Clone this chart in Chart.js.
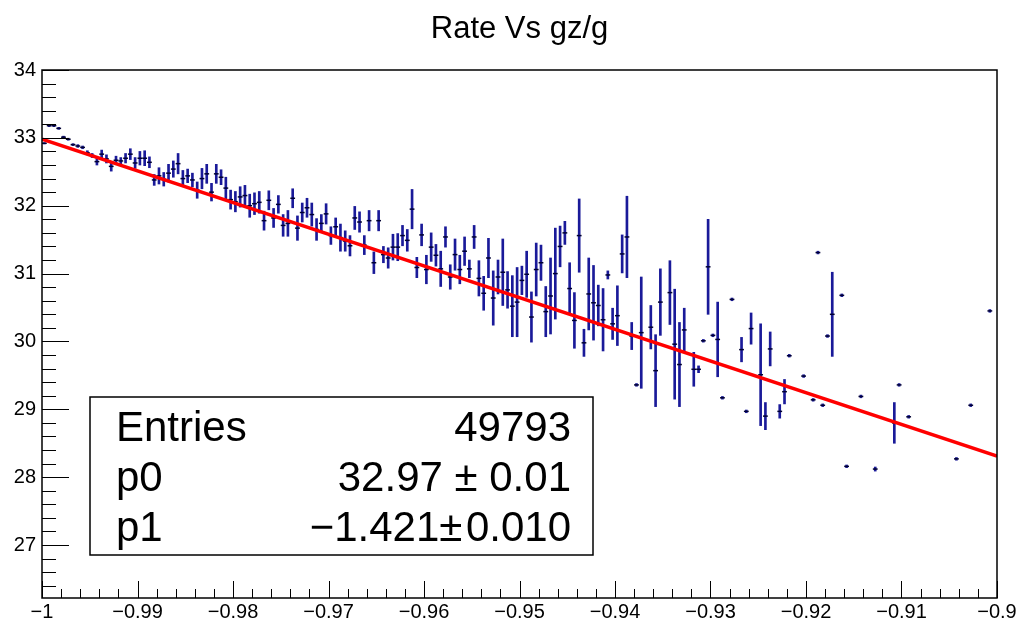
<!DOCTYPE html>
<html>
<head>
<meta charset="utf-8">
<title>Rate Vs gz/g</title>
<script src="https://cdn.jsdelivr.net/npm/chart.js@4"></script>
<style>
  body { margin: 0; background: #fff; }
  canvas { display: block; }
</style>
</head>
<body>
<canvas id="rateChart" width="1024" height="621"></canvas>
<script>
// Bin centres (gz/g) of the filled bins
const binX = [
  -0.99975, -0.99925, -0.99875, -0.99825, -0.99775, -0.99725, -0.99675, -0.99625, -0.99575, -0.99525,
  -0.99475, -0.99425, -0.99375, -0.99325, -0.99275, -0.99225, -0.99175, -0.99125, -0.99075, -0.99025,
  -0.98975, -0.98925, -0.98875, -0.98825, -0.98775, -0.98725, -0.98675, -0.98625, -0.98575, -0.98525,
  -0.98475, -0.98425, -0.98375, -0.98325, -0.98275, -0.98225, -0.98175, -0.98125, -0.98075, -0.98025,
  -0.97975, -0.97925, -0.97875, -0.97825, -0.97775, -0.97725, -0.97675, -0.97625, -0.97575, -0.97525,
  -0.97475, -0.97425, -0.97375, -0.97325, -0.97275, -0.97225, -0.97175, -0.97125, -0.97075, -0.97025,
  -0.96975, -0.96925, -0.96875, -0.96825, -0.96775, -0.96725, -0.96675, -0.96625, -0.96575, -0.96525,
  -0.96475, -0.96425, -0.96375, -0.96325, -0.96275, -0.96225, -0.96175, -0.96125, -0.96075, -0.96025,
  -0.95975, -0.95925, -0.95875, -0.95825, -0.95775, -0.95725, -0.95675, -0.95625, -0.95575, -0.95525,
  -0.95475, -0.95425, -0.95375, -0.95325, -0.95275, -0.95225, -0.95175, -0.95125, -0.95075, -0.95025,
  -0.94975, -0.94925, -0.94875, -0.94825, -0.94775, -0.94725, -0.94675, -0.94625, -0.94575, -0.94525,
  -0.94475, -0.94425, -0.94375, -0.94325, -0.94275, -0.94225, -0.94175, -0.94125, -0.94075, -0.94025,
  -0.93975, -0.93925, -0.93875, -0.93825, -0.93775, -0.93725,
  -0.93625, -0.93575, -0.93525,
  -0.93425, -0.93375, -0.93325, -0.93275,
  -0.93175, -0.93125, -0.93075, -0.93025, -0.92975, -0.92925, -0.92875,
  -0.92775,
  -0.92675, -0.92625, -0.92575,
  -0.92475, -0.92425, -0.92375,
  -0.92275, -0.92225, -0.92175,
  -0.92025,
  -0.91925, -0.91875, -0.91825, -0.91775, -0.91725,
  -0.91625, -0.91575,
  -0.91425,
  -0.91275,
  -0.91075, -0.91025,
  -0.90925,
  -0.90425,
  -0.90275,
  -0.90075
];

// Rate in each bin
const rate = [
  32.92, 33.18, 33.18, 33.14, 33.01, 32.98, 32.90, 32.88, 32.86, 32.78,
  32.74, 32.65, 32.76, 32.69, 32.58, 32.67, 32.66, 32.70, 32.76, 32.63,
  32.70, 32.70, 32.64, 32.38, 32.44, 32.39, 32.48, 32.54, 32.62, 32.40,
  32.44, 32.38, 32.23, 32.40, 32.47, 32.20, 32.47, 32.42, 32.26, 32.09,
  32.06, 32.13, 32.15, 32.00, 32.03, 32.05, 31.78, 32.08, 31.82, 32.02,
  31.71, 31.74, 32.11, 31.67, 31.90, 31.97, 31.87, 31.65, 31.74, 31.88,
  31.56, 31.69, 31.53, 31.48, 31.41, 31.82, 31.76, 31.42, 31.78, 31.16,
  31.78, 31.28, 31.23, 31.39, 31.39, 31.56, 31.49, 31.95, 31.09, 31.57,
  31.06, 31.39, 31.27, 31.07, 31.54, 30.95, 31.28, 31.06, 31.33, 31.07,
  31.54, 30.93, 30.71, 31.23, 30.64, 30.95, 31.02, 30.76, 30.52, 30.58,
  30.90, 30.99, 30.36, 31.06, 31.16, 30.44, 30.67, 31.00, 31.40, 31.60,
  30.78, 30.31, 31.56, 29.98, 30.70, 30.57, 30.53, 30.32, 30.98, 30.26,
  30.38, 31.29, 31.54, 30.08, 29.36, 30.13,
  30.21, 29.57, 30.58,
  30.72, 29.96, 29.66, 30.17,
  29.59, 29.59, 30.01, 31.10, 30.09, 30.03, 29.17,
  30.62,
  29.88, 28.97, 30.19,
  29.51, 28.90, 29.89,
  28.97, 29.26, 29.79,
  29.49,
  29.14, 31.31, 29.06, 30.08, 30.40,
  30.68, 28.16,
  29.19,
  28.12,
  28.80, 29.36,
  28.89,
  28.27,
  29.06,
  30.45
];

// Error on the rate in each bin
const rateErr = [
  0.01, 0.015, 0.015, 0.015, 0.015, 0.015, 0.015, 0.02, 0.02, 0.03,
  0.03, 0.05, 0.06, 0.06, 0.07, 0.06, 0.05, 0.07, 0.08, 0.08,
  0.10, 0.11, 0.08, 0.08, 0.12, 0.10, 0.13, 0.12, 0.15, 0.12,
  0.10, 0.10, 0.12, 0.15, 0.14, 0.13, 0.14, 0.11, 0.16, 0.14,
  0.15, 0.15, 0.15, 0.17, 0.16, 0.16, 0.14, 0.14, 0.14, 0.13,
  0.16, 0.19, 0.14, 0.18, 0.14, 0.14, 0.17, 0.16, 0.13, 0.15,
  0.13, 0.13, 0.20, 0.15, 0.15, 0.17, 0.15, 0.14, 0.15, 0.16,
  0.15, 0.12, 0.15, 0.19, 0.20, 0.15, 0.16, 0.29, 0.15, 0.16,
  0.21, 0.21, 0.16, 0.26, 0.15, 0.18, 0.23, 0.21, 0.21, 0.13,
  0.17, 0.26, 0.25, 0.29, 0.40, 0.25, 0.49, 0.27, 0.45, 0.51,
  0.21, 0.34, 0.37, 0.39, 0.26, 0.37, 0.56, 0.67, 0.30, 0.17,
  0.38, 0.41, 0.54, 0.20, 0.53, 0.55, 0.30, 0.46, 0.06, 0.23,
  0.44, 0.28, 0.60, 0.20, 0.02, 0.82,
  0.32, 0.53, 0.49,
  0.47, 0.81, 0.62, 0.32,
  0.25, 0.05, 0.02, 0.70, 0.02, 0.55, 0.02,
  0.02,
  0.18, 0.02, 0.23,
  0.75, 0.20, 0.25,
  0.10, 0.18, 0.02,
  0.02,
  0.02, 0.02, 0.02, 0.02, 0.62,
  0.02, 0.02,
  0.02,
  0.03,
  0.30, 0.02,
  0.02,
  0.02,
  0.02,
  0.02
];

// Straight-line fit as drawn over the range
const fitX = [-1, -0.9];
const fitY = [32.98, 28.31];

// Axis ticks
const xMajorTicks = [-1, -0.99, -0.98, -0.97, -0.96, -0.95, -0.94, -0.93, -0.92, -0.91, -0.9];
const xTickLabels = ['\u22121', '\u22120.99', '\u22120.98', '\u22120.97', '\u22120.96', '\u22120.95',
                     '\u22120.94', '\u22120.93', '\u22120.92', '\u22120.91', '\u22120.9'];
const yMajorTicks = [27, 28, 29, 30, 31, 32, 33, 34];
const yTickLabels = ['27', '28', '29', '30', '31', '32', '33', '34'];

// Stats box
const statNames = ['Entries', 'p0', 'p1'];
const statValues = ['49793', '32.97 \u00b1 0.01', '\u22121.421\u00b1\u200a0.010'];

const X_MIN = -1, X_MAX = -0.9, Y_MIN = 26.22, Y_MAX = 34;
const FONT = "'Liberation Sans', Arial, Helvetica, sans-serif";

// majors carry a label, minors are the subdivisions in between
function buildTicks(majors, labels, nSub, lo, hi) {
  const step = (majors[1] - majors[0]) / nSub;
  const out = [];
  majors.forEach((m, i) => {
    out.push({ value: m, lbl: labels[i] });
    for (let j = 1; j < nSub; j++) {
      const v = m + j * step;
      if (v < hi - 1e-9) out.push({ value: v, lbl: '' });
      if (i === 0 && m - j * step > lo) out.push({ value: m - j * step, lbl: '' });
    }
  });
  return out.filter(t => t.value >= lo - 1e-9 && t.value <= hi + 1e-9).sort((a, b) => a.value - b.value);
}

const xTicks = buildTicks(xMajorTicks, xTickLabels, 5, X_MIN, X_MAX);
const yTicks = buildTicks(yMajorTicks, yTickLabels, 5, Y_MIN, Y_MAX);

const errData = binX.map((x, i) => ({ x: x, y: [rate[i] - rateErr[i], rate[i] + rateErr[i]] }));
const pointData = binX.map((x, i) => ({ x: x, y: rate[i] }));
const fitData = fitX.map((x, i) => ({ x: x, y: fitY[i] }));

// Frame, inward ticks, title and stats box (ROOT look)
const rootFrame = {
  id: 'rootFrame',
  afterDatasetsDraw(chart) {
    const { ctx, chartArea: a, scales } = chart;
    const sx = scales.x, sy = scales.y;
    ctx.save();
    ctx.strokeStyle = '#000';
    ctx.lineWidth = 1;
    ctx.beginPath();
    sx.ticks.forEach(t => {
      const px = Math.round(sx.getPixelForValue(t.value)) + 0.5;
      ctx.moveTo(px, a.bottom);
      ctx.lineTo(px, a.bottom - (t.lbl ? 17 : 9));
    });
    sy.ticks.forEach(t => {
      const py = Math.round(sy.getPixelForValue(t.value)) + 0.5;
      ctx.moveTo(a.left, py);
      ctx.lineTo(a.left + (t.lbl ? 27 : 14), py);
    });
    ctx.stroke();
    ctx.lineWidth = 1.5;
    ctx.strokeRect(a.left, a.top, a.right - a.left, a.bottom - a.top);
    ctx.restore();
  },
  afterDraw(chart) {
    const ctx = chart.ctx;
    const a = chart.chartArea;
    ctx.save();
    // title
    ctx.fillStyle = '#000';
    ctx.font = '31px ' + FONT;
    ctx.textAlign = 'center';
    ctx.textBaseline = 'alphabetic';
    ctx.fillText('Rate Vs gz/g', (a.left + a.right) / 2, 38);
    // stats box
    const bx = 90, by = 397, bw = 503, bh = 158;
    ctx.fillStyle = '#fff';
    ctx.fillRect(bx, by, bw, bh);
    ctx.strokeStyle = '#000';
    ctx.lineWidth = 1.5;
    ctx.strokeRect(bx, by, bw, bh);
    ctx.fillStyle = '#000';
    ctx.font = '42px ' + FONT;
    statNames.forEach((name, i) => {
      const base = 441 + i * 50;
      ctx.textAlign = 'left';
      ctx.fillText(name, bx + 26, base);
      ctx.textAlign = 'right';
      ctx.fillText(statValues[i], bx + bw - 22, base);
    });
    ctx.restore();
  }
};

const ctx = document.getElementById('rateChart').getContext('2d');
new Chart(ctx, {
  type: 'scatter',
  data: {
    datasets: [
      {
        type: 'line',
        label: 'fit',
        data: fitData,
        borderColor: '#ff0000',
        borderWidth: 3.5,
        pointRadius: 0,
        order: 0
      },
      {
        type: 'scatter',
        label: 'rate',
        data: pointData,
        pointStyle: 'line',
        pointRadius: 2.4,
        borderColor: '#000033',
        borderWidth: 1.5,
        order: 1
      },
      {
        type: 'bar',
        label: 'error',
        data: errData,
        backgroundColor: '#1a1a99',
        barThickness: 2,
        order: 2
      }
    ]
  },
  options: {
    responsive: false,
    animation: false,
    layout: { padding: { top: 70, right: 27, left: 0, bottom: 0 } },
    plugins: {
      legend: { display: false },
      tooltip: { enabled: false },
      title: { display: false }
    },
    scales: {
      x: {
        type: 'linear',
        min: X_MIN,
        max: X_MAX,
        offset: false,
        grid: { display: false, drawTicks: false },
        border: { display: false },
        afterBuildTicks: axis => { axis.ticks = xTicks.map(t => ({ value: t.value, lbl: t.lbl })); },
        afterFit: axis => { axis.height = 23; },
        ticks: {
          autoSkip: false,
          maxRotation: 0,
          minRotation: 0,
          padding: 2,
          color: '#000',
          font: { family: FONT, size: 20 },
          callback: (v, i, ticks) => ticks[i].lbl
        }
      },
      y: {
        type: 'linear',
        min: Y_MIN,
        max: Y_MAX,
        grid: { display: false, drawTicks: false },
        border: { display: false },
        afterBuildTicks: axis => { axis.ticks = yTicks.map(t => ({ value: t.value, lbl: t.lbl })); },
        afterFit: axis => { axis.width = 42; },
        ticks: {
          autoSkip: false,
          padding: 6,
          color: '#000',
          font: { family: FONT, size: 20 },
          callback: (v, i, ticks) => ticks[i].lbl
        }
      }
    }
  },
  plugins: [rootFrame]
});
</script>
</body>
</html>
